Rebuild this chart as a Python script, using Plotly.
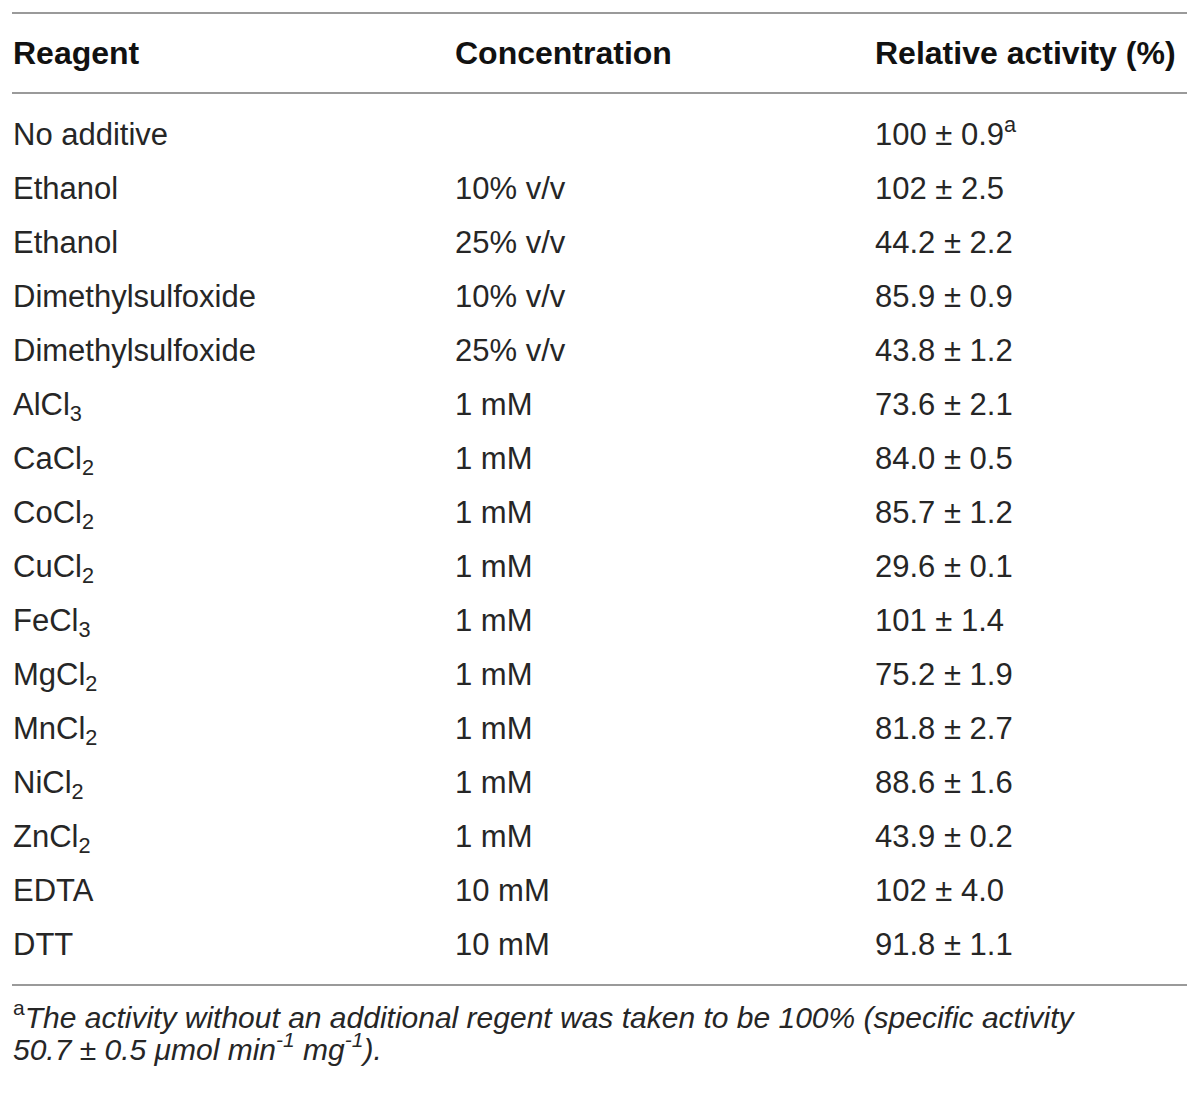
import plotly.graph_objects as go

# ---------------------------------------------------------------------------
# TABLE DATA
# ---------------------------------------------------------------------------
HEADERS = ["Reagent", "Concentration", "Relative activity (%)"]

REAGENTS = [
    "No additive", "Ethanol", "Ethanol", "Dimethylsulfoxide", "Dimethylsulfoxide",
    "AlCl<sub>3</sub>", "CaCl<sub>2</sub>", "CoCl<sub>2</sub>", "CuCl<sub>2</sub>",
    "FeCl<sub>3</sub>", "MgCl<sub>2</sub>", "MnCl<sub>2</sub>", "NiCl<sub>2</sub>",
    "ZnCl<sub>2</sub>", "EDTA", "DTT",
]
CONCENTRATIONS = [
    "", "10% v/v", "25% v/v", "10% v/v", "25% v/v",
    "1 mM", "1 mM", "1 mM", "1 mM", "1 mM", "1 mM", "1 mM", "1 mM", "1 mM",
    "10 mM", "10 mM",
]
ACTIVITY_MEAN = ["100", "102", "44.2", "85.9", "43.8", "73.6", "84.0", "85.7",
                 "29.6", "101", "75.2", "81.8", "88.6", "43.9", "102", "91.8"]
ACTIVITY_SD = ["0.9", "2.5", "2.2", "0.9", "1.2", "2.1", "0.5", "1.2",
               "0.1", "1.4", "1.9", "2.7", "1.6", "0.2", "4.0", "1.1"]
ACTIVITY_NOTE = ["a"] + [""] * 15

FOOTNOTE_LINES = [
    "<sup>a</sup><i>The activity without an additional regent was taken to be "
    "100% (specific activity</i>",
    "<i>50.7 ± 0.5 μmol min<sup>-1</sup> mg<sup>-1</sup>).</i>",
]

# ---------------------------------------------------------------------------
# LAYOUT CONSTANTS
# ---------------------------------------------------------------------------
W, H = 1200, 1093
COL_X = [13, 455, 875]
HEADER_Y = 56
ROW_Y0 = 137
ROW_STEP = 54
FOOT_Y = [1015, 1047]
FONT = "Liberation Sans"
TEXT_COLOR = "#262626"
RULE_COLOR = "#9a9a9a"

activity = [
    f"{m} ± {s}" + (f"<sup>{n}</sup>" if n else "")
    for m, s, n in zip(ACTIVITY_MEAN, ACTIVITY_SD, ACTIVITY_NOTE)
]
row_y = [ROW_Y0 + ROW_STEP * i for i in range(len(REAGENTS))]

fig = go.Figure()

# header row
fig.add_trace(go.Scatter(
    x=COL_X, y=[HEADER_Y] * 3, text=HEADERS,
    mode="text", textposition="middle right",
    textfont=dict(family=FONT, size=32, color="#111", weight=700), hoverinfo="skip",
))

# body columns
for xpos, col in zip(COL_X, [REAGENTS, CONCENTRATIONS, activity]):
    fig.add_trace(go.Scatter(
        x=[xpos] * len(col), y=row_y, text=col,
        mode="text", textposition="middle right",
        textfont=dict(family=FONT, size=31, color=TEXT_COLOR),
        hoverinfo="skip",
    ))

# horizontal rules
for yl in [13, 93, 985]:
    fig.add_shape(type="line", x0=12, x1=1187, y0=yl, y1=yl,
                  line=dict(color=RULE_COLOR, width=2))

# footnote
for yf, line in zip(FOOT_Y, FOOTNOTE_LINES):
    fig.add_annotation(
        x=11, y=yf, text=line, showarrow=False, xanchor="left", yanchor="middle",
        align="left", font=dict(family=FONT, size=30, color=TEXT_COLOR),
    )

fig.update_layout(
    width=W, height=H,
    margin=dict(l=0, r=0, t=0, b=0),
    paper_bgcolor="white", plot_bgcolor="white",
    showlegend=False,
    xaxis=dict(range=[0, W], visible=False, fixedrange=True),
    yaxis=dict(range=[H, 0], visible=False, fixedrange=True),
)

fig.write_html("out.html", config={"displayModeBar": False},
               post_script="document.body.style.margin='0';")
